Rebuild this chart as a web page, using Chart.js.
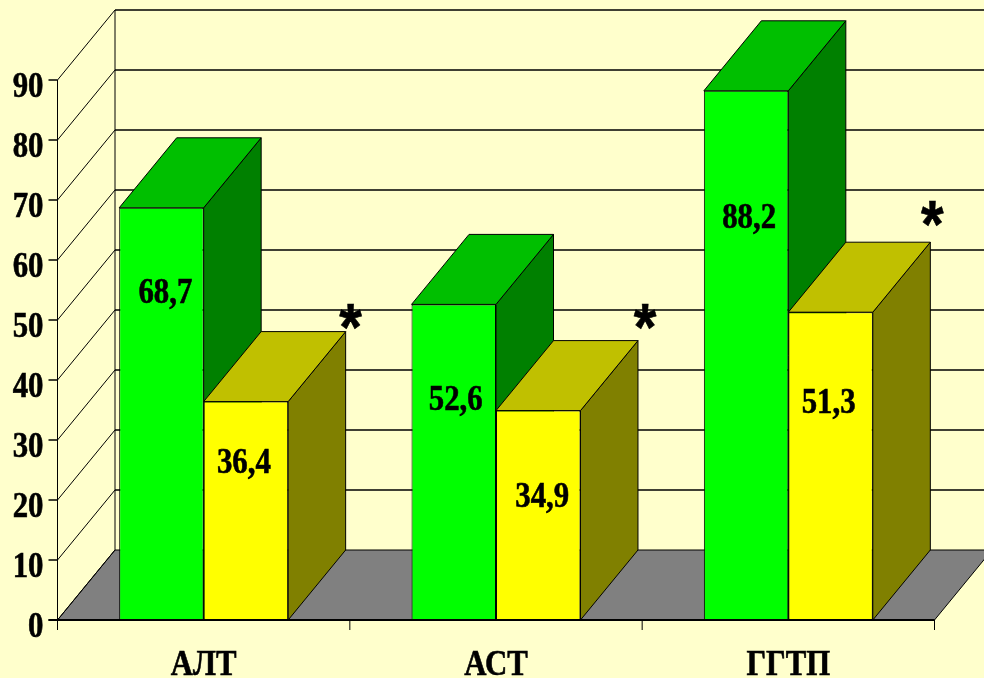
<!DOCTYPE html>
<html><head><meta charset="utf-8">
<style>html,body{margin:0;padding:0;background:#FFFFCC}canvas{display:block}</style>
<script src="https://cdn.jsdelivr.net/npm/chart.js@4"></script>
</head><body><canvas id="c" width="984" height="678"></canvas>
<script>
const categories = ['АЛТ', 'АСТ', 'ГГТП'];
const greenValues = [68.7, 52.6, 88.2];
const yellowValues = [36.4, 34.9, 51.3];
const greenText = ['68,7', '52,6', '88,2'];
const yellowText = ['36,4', '34,9', '51,3'];
const markText = ['*', '*', '*'];

const DX = 57.5, DY = 70, SX = 0.88;
const SERIF = '"Liberation Serif","Times New Roman",serif';
const SANS = '"Liberation Sans",Arial,sans-serif';
function poly(ctx, pts, fill) {
  ctx.beginPath();
  pts.forEach((p, i) => i ? ctx.lineTo(p[0], p[1]) : ctx.moveTo(p[0], p[1]));
  ctx.closePath();
  if (fill) { ctx.fillStyle = fill; ctx.fill(); }
  ctx.strokeStyle = '#000'; ctx.lineWidth = 1; ctx.stroke();
}
function text(ctx, s, x, y, size, align, family) {
  ctx.save();
  ctx.translate(x, y); ctx.scale(SX, 1);
  ctx.font = 'bold ' + size + 'px ' + (family || SERIF);
  ctx.fillStyle = '#000'; ctx.strokeStyle = '#000'; ctx.lineWidth = 0.6;
  ctx.textAlign = align; ctx.textBaseline = 'alphabetic';
  ctx.fillText(s, 0, 0);
  ctx.strokeText(s, 0, 0);
  ctx.restore();
}
const box3d = {
  id: 'box3d',
  beforeDatasetsDraw(chart) {
    const { ctx, scales: { x, y } } = chart;
    const L = x.left, R = x.right, B = y.getPixelForValue(0);
    ctx.save();
    poly(ctx, [[L, B], [L + DX, B - DY], [R + DX, B - DY], [R, B]], '#808080');
    ctx.strokeStyle = '#000';
    y.ticks.forEach(t => {
      const p = y.getPixelForValue(t.value);
      ctx.lineWidth = 1;
      ctx.beginPath(); ctx.moveTo(L, p); ctx.lineTo(L + DX, p - DY); ctx.stroke();
      if (t.value > 0) {
        ctx.lineWidth = 1.5;
        ctx.beginPath(); ctx.moveTo(L + DX, p - DY); ctx.lineTo(984, p - DY); ctx.stroke();
      }
    });
    ctx.lineWidth = 1;
    ctx.beginPath(); ctx.moveTo(L + DX, y.getPixelForValue(y.max) - DY); ctx.lineTo(L + DX, B - DY); ctx.stroke();
    const tones = [['#00BF00', '#008000'], ['#C0C000', '#808000']];
    categories.forEach((_, i) => {
      [0, 1].forEach(d => {
        const el = chart.getDatasetMeta(d).data[i];
        const l = el.x - el.width / 2, r = el.x + el.width / 2, t = el.y, b = el.base;
        poly(ctx, [[r, t], [r + DX, t - DY], [r + DX, b - DY], [r, b]], tones[d][1]);
        poly(ctx, [[l, t], [l + DX, t - DY], [r + DX, t - DY], [r, t]], tones[d][0]);
      });
    });
    ctx.restore();
  },
  afterDatasetsDraw(chart) {
    const { ctx, scales: { x, y } } = chart;
    const L = x.left, R = x.right, B = y.getPixelForValue(0);
    ctx.save();
    ctx.strokeStyle = '#000';
    ctx.lineWidth = 1;
    ctx.beginPath(); ctx.moveTo(L, y.getPixelForValue(y.max)); ctx.lineTo(L, B); ctx.stroke();
    y.ticks.forEach(t => {
      const p = y.getPixelForValue(t.value);
      ctx.lineWidth = 1.5;
      ctx.beginPath(); ctx.moveTo(L - 9, p); ctx.lineTo(L, p); ctx.stroke();
      text(ctx, t.label, L - 14, p + 17, 35, 'right');
    });
    ctx.lineWidth = 2;
    ctx.beginPath(); ctx.moveTo(L - 9, B); ctx.lineTo(R, B); ctx.stroke();
    ctx.lineWidth = 1;
    const w = (R - L) / categories.length;
    for (let i = 0; i <= categories.length; i++) {
      ctx.beginPath(); ctx.moveTo(L + i * w, B); ctx.lineTo(L + i * w, B + 10); ctx.stroke();
    }
    x.ticks.forEach((t, i) => text(ctx, t.label, x.getPixelForTick(i), B + 55, 35, 'center'));
    const gNudge = [[4, 54.8], [2, 37], [3, 67.3]];
    const yNudge = [[-2, 26.5], [4, 20.8], [-2, 36.5]];
    const marks = [[147, 50.3], [149, 50.3], [144, 67.5]];
    categories.forEach((_, i) => {
      const g = chart.getDatasetMeta(0).data[i], yb = chart.getDatasetMeta(1).data[i];
      text(ctx, greenText[i], g.x + gNudge[i][0], y.getPixelForValue(gNudge[i][1]) + 12, 35, 'center');
      text(ctx, yellowText[i], yb.x + yNudge[i][0], y.getPixelForValue(yNudge[i][1]) + 12, 35, 'center');
      text(ctx, markText[i], x.getPixelForValue(i) + marks[i][0], y.getPixelForValue(marks[i][1]) + 31.5, 66, 'center', SANS);
    });
    ctx.restore();
  }
};
new Chart(document.getElementById('c'), {
  type: 'bar',
  data: {
    labels: categories,
    datasets: [
      { label: 'A', data: greenValues, backgroundColor: '#00FF00', borderColor: '#000', borderWidth: 1, borderSkipped: false },
      { label: 'B', data: yellowValues, backgroundColor: '#FFFF00', borderColor: '#000', borderWidth: 1, borderSkipped: false }
    ]
  },
  plugins: [box3d],
  options: {
    responsive: false, animation: false,
    layout: { padding: { left: 57.5, right: 49.5, top: 80, bottom: 58 } },
    categoryPercentage: 0.578, barPercentage: 1,
    plugins: { legend: { display: false }, tooltip: { enabled: false } },
    scales: {
      x: { grid: { display: false }, border: { display: false }, ticks: { display: false }, afterFit(s) { s.height = 0; } },
      y: { min: 0, max: 90, grid: { display: false }, border: { display: false },
           ticks: { display: false, stepSize: 10 }, afterFit(s) { s.width = 0; } }
    }
  }
});
</script></body></html>
